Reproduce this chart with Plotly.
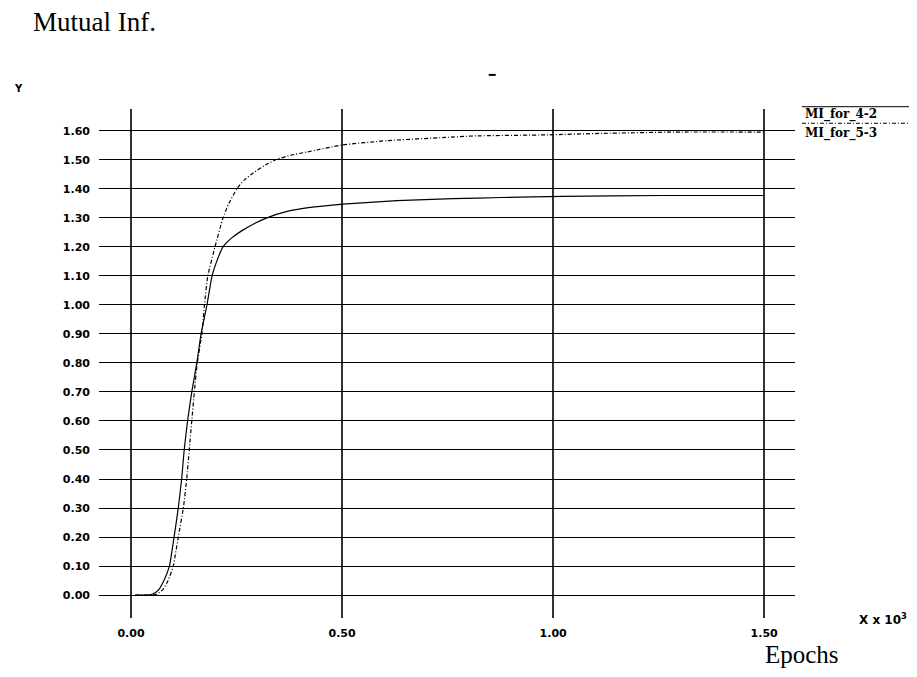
import plotly.graph_objects as go

# Epochs (x 10^3) and mutual information values
x_mi_4_2 = [0.01, 0.03, 0.05, 0.065, 0.078, 0.091, 0.102, 0.112, 0.120, 0.126, 0.134,
            0.144, 0.156, 0.166, 0.180, 0.192, 0.203, 0.218, 0.238, 0.262, 0.295, 0.322,
            0.37, 0.42, 0.472, 0.5, 0.63, 0.763, 0.879, 1.024, 1.258, 1.5]
y_mi_4_2 = [0.0, 0.0, 0.003, 0.017, 0.05, 0.10, 0.20, 0.30, 0.40, 0.50, 0.60,
            0.70, 0.80, 0.90, 1.00, 1.10, 1.15, 1.20, 1.23, 1.255, 1.282, 1.30,
            1.322, 1.335, 1.343, 1.347, 1.359, 1.366, 1.370, 1.374, 1.377, 1.377]

x_mi_5_3 = [0.01, 0.03, 0.05, 0.062, 0.076, 0.088, 0.100, 0.112, 0.124, 0.132, 0.138, 0.144,
            0.150, 0.157, 0.168, 0.174, 0.182, 0.199, 0.218, 0.232, 0.251, 0.268, 0.29,
            0.318, 0.346, 0.38, 0.417, 0.5, 0.607, 0.744, 0.81, 0.99, 1.115, 1.29, 1.5]
y_mi_5_3 = [0.0, 0.0, 0.0, 0.004, 0.02, 0.05, 0.10, 0.20, 0.30, 0.40, 0.50, 0.60,
            0.70, 0.80, 0.90, 1.00, 1.10, 1.20, 1.30, 1.35, 1.40, 1.43, 1.455,
            1.482, 1.502, 1.516, 1.527, 1.551, 1.566, 1.577, 1.582, 1.586, 1.591, 1.5955, 1.5955]

x_ticks = [0.0, 0.5, 1.0, 1.5]
x_tick_labels = ["0.00", "0.50", "1.00", "1.50"]
y_ticks = [round(0.1 * i, 2) for i in range(17)]
y_tick_labels = ["%.2f" % v for v in y_ticks]

series_names = ["MI_for_4-2", "MI_for_5-3"]

fig = go.Figure()
fig.add_trace(go.Scatter(x=x_mi_4_2, y=y_mi_4_2, mode="lines", name=series_names[0],
                         line=dict(color="black", width=1.2, shape="spline", smoothing=0.5)))
fig.add_trace(go.Scatter(x=x_mi_5_3, y=y_mi_5_3, mode="lines", name=series_names[1],
                         line=dict(color="black", width=1.2, dash="4px,2px,1px,2px",
                                   shape="spline", smoothing=0.5)))

tick_font = dict(family="DejaVu Sans", size=11, color="black", weight="bold")

fig.update_layout(
    width=909, height=669,
    margin=dict(l=91, r=122, t=101, b=59, autoexpand=False),
    paper_bgcolor="white", plot_bgcolor="white",
    showlegend=False,
    xaxis=dict(range=[-0.0758, 1.573], tickvals=x_ticks, ticktext=x_tick_labels,
               showgrid=True, gridcolor="#333333", gridwidth=2, zeroline=False,
               showline=False, ticks="", tickfont=tick_font, ticklabelstandoff=7),
    yaxis=dict(range=[-0.079, 1.675], tickvals=y_ticks, ticktext=y_tick_labels,
               showgrid=True, gridcolor="black", gridwidth=1, zeroline=False,
               showline=False, ticks="", tickfont=tick_font, ticklabelstandoff=8),
)

# Legend drawn at the top right (line above each label)
fig.add_shape(type="line", xref="paper", yref="paper", x0=1.010, x1=1.175, y0=1.0045, y1=1.0045,
              line=dict(color="black", width=1))
fig.add_shape(type="line", xref="paper", yref="paper", x0=1.010, x1=1.175, y0=0.972, y1=0.972,
              line=dict(color="black", width=1, dash="4px,2px,1px,2px"))
legend_font = dict(family="DejaVu Serif", size=12, color="black", weight="bold")
fig.add_annotation(text=series_names[0], xref="paper", yref="paper", x=1.011, y=0.990,
                   xanchor="left", yanchor="middle", showarrow=False, font=legend_font)
fig.add_annotation(text=series_names[1], xref="paper", yref="paper", x=1.011, y=0.952,
                   xanchor="left", yanchor="middle", showarrow=False, font=legend_font)

# small stray mark at top
fig.add_shape(type="line", xref="paper", yref="paper", x0=0.560, x1=0.570, y0=1.067, y1=1.067,
              line=dict(color="black", width=2))

# Axis captions
fig.add_annotation(text="Y", xref="paper", yref="paper", x=-0.116, y=1.041,
                   xanchor="center", yanchor="middle", showarrow=False,
                   font=dict(family="DejaVu Sans", size=10, color="black", weight="bold"))
fig.add_annotation(text="X x 10<sup>3</sup>", xref="paper", yref="paper", x=1.126, y=-0.002,
                   xanchor="center", yanchor="middle", showarrow=False,
                   font=dict(family="DejaVu Sans", size=12, color="black", weight="bold"))
fig.add_annotation(text="Epochs", xref="paper", yref="paper", x=1.010, y=-0.071,
                   xanchor="center", yanchor="middle", showarrow=False,
                   font=dict(family="Liberation Serif", size=25, color="black"))
fig.add_annotation(text="Mutual Inf.", xref="paper", yref="paper", x=-0.098, y=1.170,
                   xanchor="left", yanchor="middle", showarrow=False,
                   font=dict(family="Liberation Serif", size=27, color="black"))

fig.write_html("out.html")
